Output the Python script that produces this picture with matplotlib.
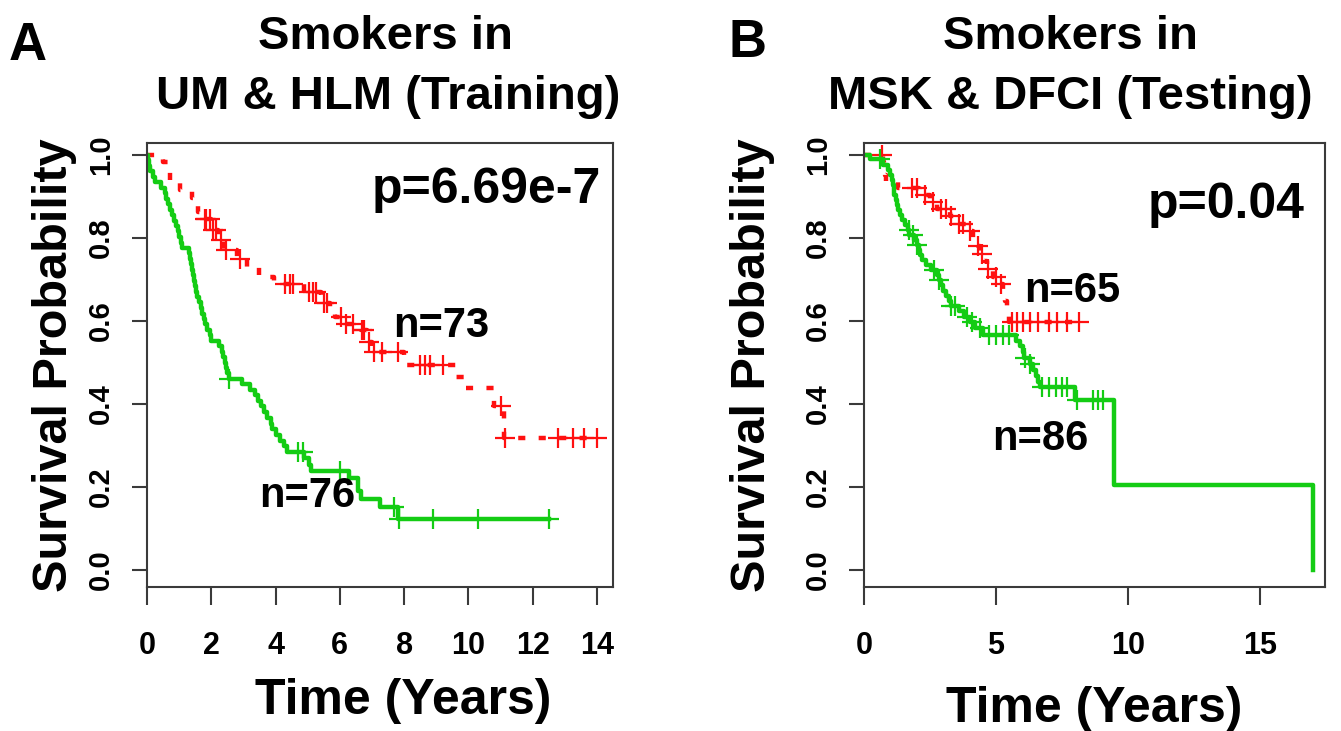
import matplotlib
matplotlib.use("Agg")
import matplotlib.pyplot as plt
import numpy as np

plt.rcParams['font.family'] = ['Liberation Sans', 'DejaVu Sans']
plt.rcParams['font.weight'] = 'bold'

# panel A: UM & HLM (training), high-risk (green) vs low-risk (red)
red_a_time = [0, 0.5, 0.72, 1.03, 1.4, 1.6, 1.75, 2.0, 2.2, 2.4, 2.8, 3.1, 3.5, 3.95,
              4.9, 5.4, 5.7, 5.85, 6.1, 6.65, 6.86, 7.0, 8.0, 9.6, 9.9, 10.8, 11.1, 14.0]
red_a_surv = [1.0, 0.984, 0.94, 0.916, 0.896, 0.863, 0.845, 0.82, 0.795, 0.77, 0.75, 0.73, 0.707, 0.69,
              0.67, 0.643, 0.627, 0.61, 0.594, 0.578, 0.55, 0.526, 0.494, 0.466, 0.438, 0.394, 0.318, 0.318]
red_a_cens = [1.8, 1.85, 1.95, 2.05, 2.15, 2.3, 2.45, 2.9, 4.3, 4.45, 4.55, 5.05, 5.15, 5.25, 5.5,
              5.6, 6.05, 6.2, 6.4, 6.7, 6.75, 6.9, 7.05, 7.3, 7.8, 8.5, 8.65, 8.8, 9.2, 11.0, 11.15,
              12.8, 13.25, 13.6, 14.0]

green_a_time = [0, 0.02, 0.05, 0.1, 0.2, 0.25, 0.45, 0.55, 0.6, 0.65, 0.72, 0.78, 0.85, 0.9, 0.95,
                1.0, 1.05, 1.1, 1.3, 1.35, 1.38, 1.4, 1.42, 1.45, 1.5, 1.52, 1.55, 1.62, 1.68, 1.72,
                1.78, 1.82, 1.88, 1.95, 2.0, 2.25, 2.32, 2.38, 2.42, 2.45, 2.5, 2.55, 2.95, 3.2, 3.35,
                3.45, 3.55, 3.65, 3.72, 3.85, 3.9, 4.0, 4.15, 4.25, 4.35, 4.9, 5.05, 5.1, 6.3, 6.55,
                6.65, 7.25, 7.8, 12.5]
green_a_surv = [1.0, 0.987, 0.974, 0.961, 0.947, 0.934, 0.921, 0.908, 0.895, 0.882, 0.868, 0.855, 0.842,
                0.829, 0.816, 0.803, 0.789, 0.776, 0.763, 0.75, 0.737, 0.724, 0.711, 0.697, 0.684, 0.671,
                0.658, 0.645, 0.632, 0.618, 0.605, 0.592, 0.579, 0.566, 0.553, 0.539, 0.526, 0.513, 0.5,
                0.487, 0.474, 0.461, 0.448, 0.434, 0.421, 0.407, 0.394, 0.38, 0.367, 0.353, 0.34, 0.326,
                0.312, 0.298, 0.285, 0.27, 0.254, 0.238, 0.222, 0.19, 0.172, 0.152, 0.124, 0.124]
green_a_cens = [2.56, 4.7, 4.85, 6.0, 7.7, 7.85, 8.9, 10.3, 12.5]

# panel B: MSK & DFCI (testing)
red_b_time = [0, 0.72, 0.75, 0.78, 0.82, 1.3, 2.1, 2.5, 2.75, 3.25, 3.5, 3.9, 4.14, 4.3, 4.4,
              4.55, 4.65, 4.9, 5.1, 5.28, 5.35, 5.4, 5.5, 8.15]
red_b_surv = [1.0, 0.984, 0.968, 0.952, 0.936, 0.92, 0.903, 0.886, 0.869, 0.852, 0.835, 0.818, 0.8,
              0.78, 0.762, 0.744, 0.726, 0.707, 0.688, 0.669, 0.648, 0.627, 0.597, 0.597]
red_b_cens = [0.67, 1.8, 2.0, 2.3, 2.6, 2.9, 3.1, 3.3, 3.6, 3.75, 4.0, 4.3, 4.45, 4.7, 5.0, 5.2,
              5.6, 5.8, 6.0, 6.3, 6.6, 7.0, 7.3, 7.7, 8.15]

green_b_time = [0, 0.23, 0.73, 0.9, 0.98, 1.05, 1.1, 1.12, 1.15, 1.2, 1.25, 1.3, 1.38, 1.45, 1.55,
                1.65, 1.72, 1.9, 2.0, 2.08, 2.12, 2.2, 2.35, 2.55, 2.75, 2.85, 2.9, 3.0, 3.1, 3.2,
                3.28, 3.6, 3.8, 4.0, 4.2, 4.5, 5.75, 5.9, 6.0, 6.05, 6.3, 6.4, 6.5, 6.6, 6.67, 8.0,
                9.45, 17.0]
green_b_surv = [1.0, 0.99, 0.977, 0.965, 0.953, 0.94, 0.928, 0.916, 0.904, 0.892, 0.88, 0.868, 0.856,
                0.844, 0.832, 0.82, 0.808, 0.796, 0.784, 0.772, 0.76, 0.747, 0.735, 0.723, 0.711, 0.698,
                0.686, 0.673, 0.661, 0.648, 0.636, 0.623, 0.61, 0.597, 0.584, 0.566, 0.553, 0.539, 0.525,
                0.51, 0.496, 0.482, 0.467, 0.453, 0.441, 0.41, 0.205, 0.0]
green_b_cens = [0.6, 1.7, 1.85, 2.0, 2.65, 2.85, 3.3, 3.45, 3.9, 4.1, 4.4, 4.75, 5.0, 5.25, 5.5,
                6.1, 6.3, 6.75, 7.0, 7.25, 7.5, 7.7, 8.05, 8.65, 8.85, 9.05]

RED = '#ff1010'
GREEN = '#14cc14'
AXCOL = '#3a3a3a'


def surv_at(times, surv, t):
    # value of the step curve at time t (right-continuous)
    idx = np.searchsorted(times, t, side='right') - 1
    return np.asarray(surv)[idx]


def draw_km(ax, times, surv, cens, color, dashed):
    ls = (0, (1.6, 3.0)) if dashed else '-'
    ax.step(times, surv, where='post', color=color, lw=3.2, ls=ls)
    cy = surv_at(times, surv, cens)
    ax.plot(cens, cy, ls='none', marker='+', ms=14, mew=1.6, color=color)


def style_axes(ax, xmax, xticks):
    ax.set_xlim(0, xmax)
    ax.set_ylim(-0.041, 1.029)
    ax.set_xticks(xticks)
    ax.set_yticks([0, 0.2, 0.4, 0.6, 0.8, 1.0])
    ax.set_yticklabels(['0.0', '0.2', '0.4', '0.6', '0.8', '1.0'], rotation=90, va='center')
    for sp in ax.spines.values():
        sp.set_color(AXCOL)
        sp.set_linewidth(1.5)
    ax.tick_params(axis='x', length=13, width=1.5, color=AXCOL, labelsize=22, pad=19)
    ax.tick_params(axis='y', length=11, width=1.5, color=AXCOL, labelsize=21, pad=12)


fig = plt.figure(figsize=(13.41, 7.31), dpi=100)
W, H = 1341, 731

axA = fig.add_axes([147 / W, 1 - 587 / H, 466 / W, 444 / H])
axB = fig.add_axes([864 / W, 1 - 587 / H, 461 / W, 444 / H])

draw_km(axA, red_a_time, red_a_surv, red_a_cens, RED, True)
draw_km(axA, green_a_time, green_a_surv, green_a_cens, GREEN, False)
draw_km(axB, red_b_time, red_b_surv, red_b_cens, RED, True)
draw_km(axB, green_b_time, green_b_surv, green_b_cens, GREEN, False)

style_axes(axA, 14.5, [0, 2, 4, 6, 8, 10, 12, 14])
style_axes(axB, 17.45, [0, 5, 10, 15])

axA.text(10.56, 0.884, 'p=6.69e-7', ha='center', va='baseline', fontsize=36, fontweight='bold')
axA.text(9.16, 0.561, 'n=73', ha='center', va='baseline', fontsize=30, fontweight='bold')
axA.text(4.97, 0.152, 'n=76', ha='center', va='baseline', fontsize=30, fontweight='bold')
axB.text(13.7, 0.848, 'p=0.04', ha='center', va='baseline', fontsize=36, fontweight='bold')
axB.text(7.88, 0.646, 'n=65', ha='center', va='baseline', fontsize=30, fontweight='bold')
axB.text(6.67, 0.289, 'n=86', ha='center', va='baseline', fontsize=30, fontweight='bold')

label_pos = {axA: (-0.150, 0.55, -0.205), axB: (-0.193, 0.5, -0.222)}
for ax, (lx, xl_x, xl_y) in label_pos.items():
    ax.set_ylabel('Survival Probability', fontsize=35, fontweight='bold')
    ax.set_xlabel('Time (Years)', fontsize=36, fontweight='bold')
    ax.yaxis.set_label_coords(lx, 0.5)
    ax.xaxis.set_label_coords(xl_x, xl_y)

fig.text(385 / W, 1 - 37 / H, 'Smokers in', ha='center', va='center', fontsize=34, fontweight='bold')
fig.text(388 / W, 1 - 97 / H, 'UM & HLM (Training)', ha='center', va='center', fontsize=34, fontweight='bold')
fig.text(1070 / W, 1 - 37 / H, 'Smokers in', ha='center', va='center', fontsize=34, fontweight='bold')
fig.text(1070 / W, 1 - 97 / H, 'MSK & DFCI (Testing)', ha='center', va='center', fontsize=34, fontweight='bold')
fig.text(28 / W, 1 - 46 / H, 'A', ha='center', va='center', fontsize=38, fontweight='bold')
fig.text(748 / W, 1 - 43 / H, 'B', ha='center', va='center', fontsize=38, fontweight='bold')

fig.savefig('out.png', dpi=100)
